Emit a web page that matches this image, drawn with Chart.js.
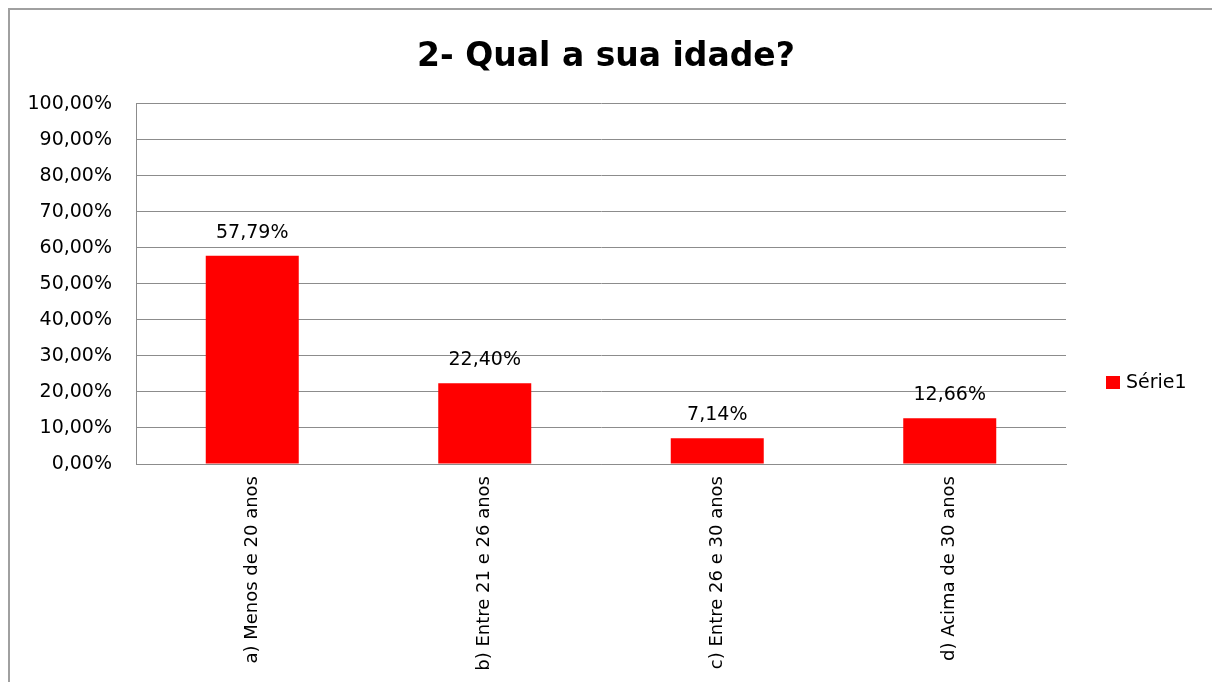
<!DOCTYPE html>
<html>
<head>
<meta charset="utf-8">
<script src="https://cdn.jsdelivr.net/npm/chart.js@4.4.1/dist/chart.umd.min.js"></script>
<style>
  body { margin: 0; background: #fff; overflow: hidden; }
  #frame { position: absolute; left: 8px; top: 8px; width: 1220px; height: 690px;
           border-left: 2px solid #a0a0a0; border-top: 2px solid #a0a0a0; }
  #chart { position: absolute; left: 0; top: 0; }
</style>
</head>
<body>
<div id="frame"></div>
<canvas id="chart" width="1212" height="682"></canvas>
<script>
const categories = ['a) Menos de 20 anos', 'b) Entre 21 e 26 anos', 'c) Entre 26 e 30 anos', 'd) Acima de 30 anos'];
const values = [57.79, 22.40, 7.14, 12.66];
const seriesName = 'Série1';

const fmt = v => v.toFixed(2).replace('.', ',') + '%';

// value labels above the bars
const barLabels = {
    id: 'barLabels',
    afterDatasetsDraw(chart) {
        const ctx = chart.ctx;
        const meta = chart.getDatasetMeta(0);
        ctx.save();
        ctx.font = '19px "DejaVu Sans"';
        ctx.fillStyle = '#000';
        ctx.textAlign = 'center';
        ctx.textBaseline = 'middle';
        meta.data.forEach((bar, i) => {
            ctx.fillText(fmt(chart.data.datasets[0].data[i]), bar.x, bar.y - 23);
        });
        ctx.restore();
    }
};

// legend drawn on the right, like the spreadsheet one
const sideLegend = {
    id: 'sideLegend',
    afterDraw(chart) {
        const ctx = chart.ctx;
        const ds = chart.data.datasets[0];
        ctx.save();
        ctx.fillStyle = ds.backgroundColor;
        ctx.fillRect(1106, 376, 14, 13);
        ctx.font = '19px "DejaVu Sans"';
        ctx.fillStyle = '#000';
        ctx.textAlign = 'left';
        ctx.textBaseline = 'middle';
        ctx.fillText(ds.label, 1126, 383);
        ctx.restore();
    }
};

new Chart(document.getElementById('chart'), {
    type: 'bar',
    data: {
        labels: categories,
        datasets: [{
            label: seriesName,
            data: values,
            backgroundColor: '#ff0000',
            categoryPercentage: 1,
            barPercentage: 0.4
        }]
    },
    options: {
        responsive: false,
        animation: false,
        layout: { padding: 0 },
        plugins: {
            legend: { display: false },
            tooltip: { enabled: false },
            title: {
                display: true,
                text: '2- Qual a sua idade?',
                color: '#000',
                font: { family: 'DejaVu Sans', size: 33, weight: 'bold', lineHeight: 1.2 },
                padding: { top: 38, bottom: 26 }
            }
        },
        scales: {
            x: {
                grid: { display: false, drawTicks: false },
                border: { display: true, color: '#8c8c8c', width: 1 },
                ticks: {
                    color: '#000',
                    font: { family: 'DejaVu Sans', size: 18 },
                    minRotation: 90,
                    maxRotation: 90,
                    padding: 12
                },
                afterFit: s => { s.height = 218; }
            },
            y: {
                min: 0,
                max: 100,
                grid: { color: '#8c8c8c', lineWidth: 1, drawTicks: false },
                border: { display: true, color: '#8c8c8c', width: 1 },
                ticks: {
                    stepSize: 10,
                    color: '#000',
                    font: { family: 'DejaVu Sans', size: 19 },
                    padding: 24,
                    callback: v => fmt(v)
                },
                afterFit: s => { s.width = 136; }
            },
            side: {
                type: 'linear',
                position: 'right',
                display: true,
                grid: { display: false, drawTicks: false },
                border: { display: false },
                ticks: { display: false },
                afterFit: s => { s.width = 146; }
            }
        }
    },
    plugins: [barLabels, sideLegend]
});
</script>
</body>
</html>
